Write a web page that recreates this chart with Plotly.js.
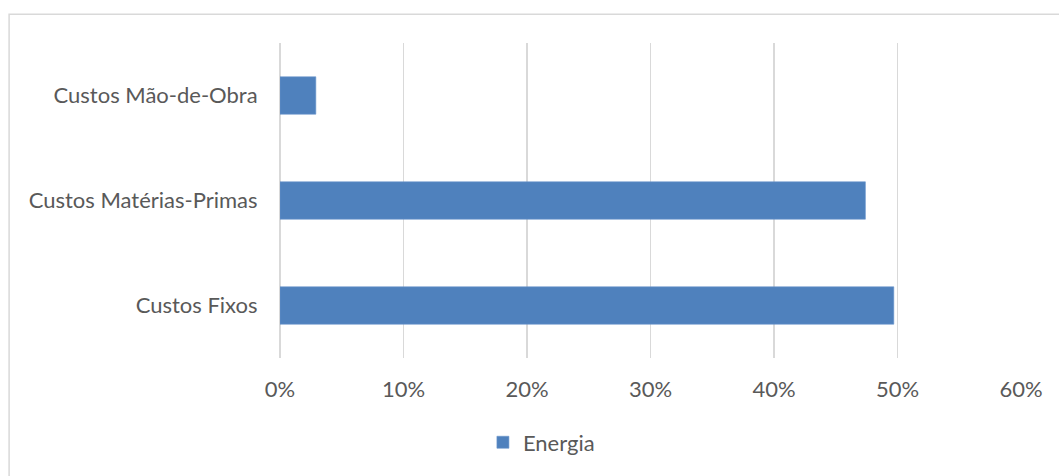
<!DOCTYPE html>
<html>
<head>
<meta charset="utf-8">
<script src="https://cdn.plot.ly/plotly-3.0.1.min.js"></script>
<style>
  html, body { margin: 0; padding: 0; background: #ffffff; }
  #chart { width: 1059px; height: 476px; }
</style>
</head>
<body>
<div id="chart"></div>
<script>
// Data (bottom-to-top category order)
const categories = ["Custos Fixos", "Custos Matérias-Primas", "Custos Mão-de-Obra"];
const energia = [0.497, 0.474, 0.029];
const seriesName = "Energia";
const xTickVals = [0, 0.1, 0.2, 0.3, 0.4, 0.5, 0.6];
const xTickText = ["0%", "10%", "20%", "30%", "40%", "50%", "60%"];

const FONT = "Lato, Carlito, Calibri, 'Open Sans', sans-serif";
const TXT = "#595959";
const GRID = "#d9d9d9";

const plotL = 280, plotR = 1021.3, plotT = 43, plotB = 360;
const pw = plotR - plotL, ph = plotB - plotT;
const px = v => (v - plotL) / pw;
const py = v => (plotB - v) / ph;

const trace = {
  type: "bar",
  orientation: "h",
  y: categories,
  x: energia,
  name: seriesName,
  marker: { color: "#4f81bd", line: { color: "#6a96cc", width: 0.6 } },
  showlegend: true,
  hoverinfo: "x+y"
};

const layout = {
  width: 1059,
  height: 476,
  margin: { l: plotL, r: 1059 - plotR, t: plotT, b: 476 - plotB, pad: 0 },
  paper_bgcolor: "#ffffff",
  plot_bgcolor: "#ffffff",
  font: { family: FONT, size: 22, color: TXT },
  bargap: 0.644,
  showlegend: true,
  xaxis: {
    range: [0, 0.6],
    tickvals: xTickVals,
    ticktext: xTickText,
    showgrid: true,
    gridcolor: GRID,
    gridwidth: 1.5,
    zeroline: true,
    zerolinecolor: GRID,
    zerolinewidth: 1.5,
    showline: false,
    ticks: "outside",
    ticklen: 12,
    tickcolor: "rgba(0,0,0,0)",
    tickfont: { family: FONT, size: 22, color: TXT },
    fixedrange: true
  },
  yaxis: {
    type: "category",
    showgrid: false,
    zeroline: false,
    showline: false,
    ticks: "outside",
    ticklen: 17,
    tickcolor: "rgba(0,0,0,0)",
    tickfont: { family: FONT, size: 22, color: TXT },
    fixedrange: true
  },
  legend: {
    orientation: "h",
    x: px(483),
    xanchor: "left",
    y: py(445),
    yanchor: "middle",
    font: { family: FONT, size: 22, color: TXT },
    bgcolor: "rgba(0,0,0,0)"
  },
  shapes: [{
    type: "rect",
    xref: "paper", yref: "paper",
    x0: px(9), x1: px(1070),
    y0: py(490), y1: py(14),
    line: { color: GRID, width: 1.5 },
    fillcolor: "rgba(0,0,0,0)",
    layer: "below"
  }]
};

Plotly.newPlot("chart", [trace], layout, { displayModeBar: false, staticPlot: true });
</script>
</body>
</html>
